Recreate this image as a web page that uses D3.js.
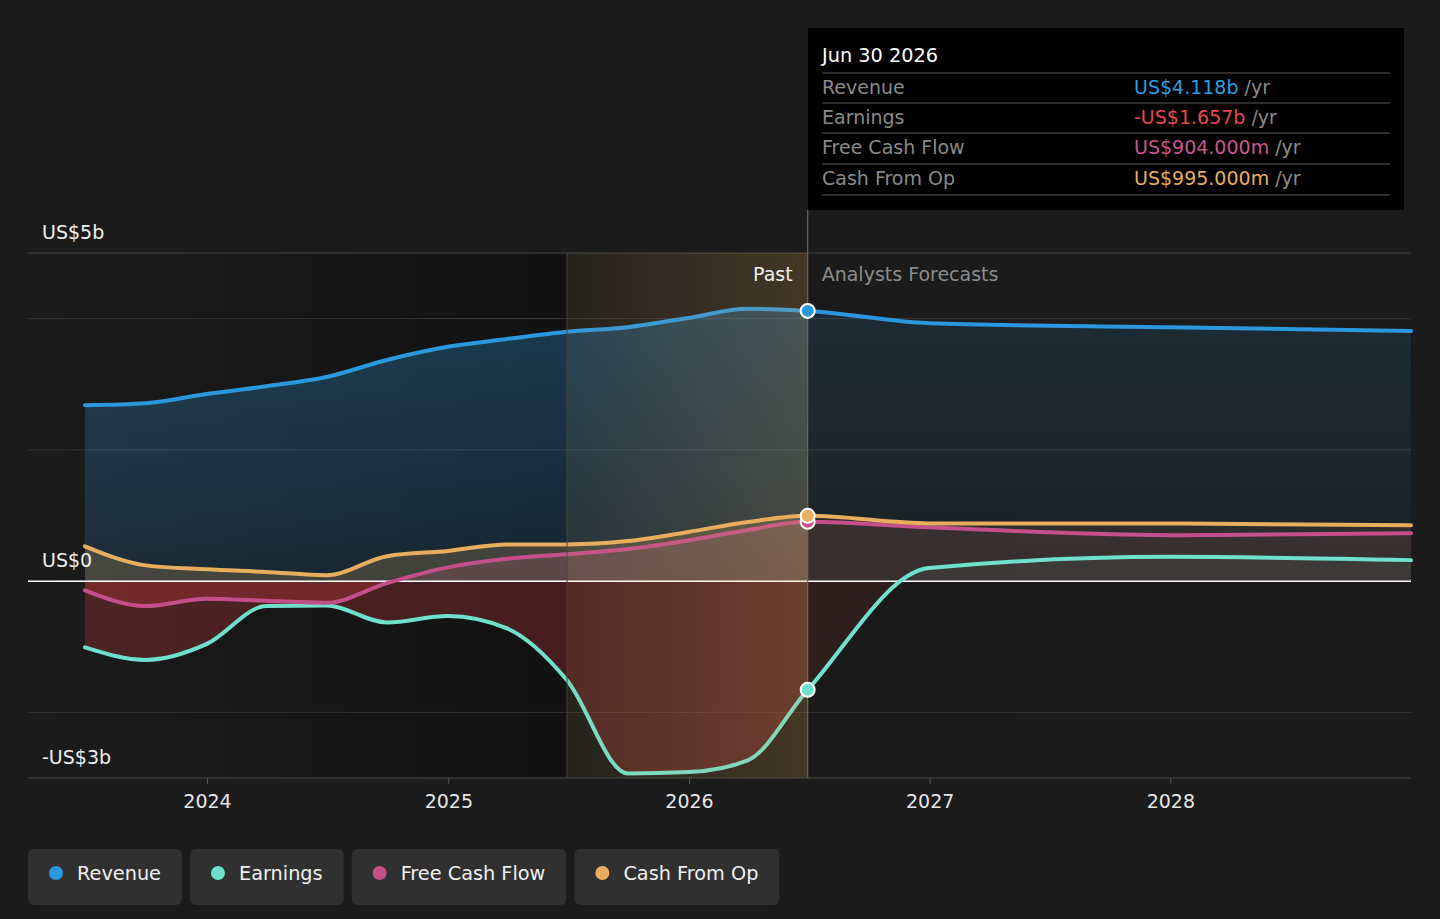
<!DOCTYPE html>
<html>
<head>
<meta charset="utf-8">
<title>Revenue, earnings and cash flow</title>
<script src="https://cdn.jsdelivr.net/npm/d3@7"></script>
<style>
  body { margin: 0; background: #1b1b1b; font-family: "DejaVu Sans", sans-serif; }
</style>
</head>
<body>
<script>
// values in US$ billions
var dates = ["2023-06-30","2023-09-30","2023-12-31","2024-03-31","2024-06-30","2024-09-30","2024-12-31",
             "2025-03-31","2025-06-30","2025-09-30","2025-12-31","2026-03-31","2026-06-30",
             "2026-12-31","2027-12-31","2028-12-31"]
var revenue      = [2.68, 2.71, 2.85, 2.97, 3.11, 3.37, 3.57, 3.69, 3.80, 3.87, 4.01, 4.15, 4.118, 3.93, 3.87, 3.81]
var earnings     = [-1.01,-1.20,-0.96,-0.38,-0.37,-0.63,-0.53,-0.72,-1.51,-2.93,-2.91,-2.73,-1.657, 0.20, 0.37, 0.32]
var freeCashFlow = [-0.14,-0.38,-0.27,-0.30,-0.33,-0.03, 0.21, 0.34, 0.41, 0.49, 0.62, 0.78, 0.904, 0.82, 0.70, 0.73]
var cashFromOp   = [0.53, 0.24, 0.18, 0.14, 0.09, 0.38, 0.46, 0.56, 0.56, 0.61, 0.75, 0.90, 0.995, 0.88, 0.88, 0.85]

var seriesNames  = ["Revenue", "Earnings", "Free Cash Flow", "Cash From Op"]
var seriesColors = ["#2b97de", "#6fe0cc", "#c44f8a", "#e8ae5e"]
var tooltipDate  = "2026-06-30"
var tooltipTitle = "Jun 30 2026"
var tooltipValues = ["US$4.118b", "-US$1.657b", "US$904.000m", "US$995.000m"]
var tooltipColors = ["#2d9de0", "#e64a4a", "#c9578f", "#e8ae5e"]
var yTicks = [-2, 0, 2, 4]
var yLabels = [{v: 5, t: "US$5b"}, {v: 0, t: "US$0"}, {v: -3, t: "-US$3b"}]
var pastStart = "2025-06-30"

var width = 1440, height = 919
var parse = d3.timeParse("%Y-%m-%d")
var allSeries = [revenue, earnings, freeCashFlow, cashFromOp]

var svg = d3.select("body").append("svg").attr("width", width).attr("height", height)
var defs = svg.append("defs")

var left = 28, right = 1411
var x = d3.scaleTime().domain([parse(dates[0]), parse(dates[dates.length - 1])]).range([85, 1411])
var y = d3.scaleLinear().domain([-3, 5]).range([778, 253])
var xNow = x(parse(tooltipDate))
var xPast = x(parse(pastStart))

// darker past background
var pg = defs.append("linearGradient").attr("id", "pastBg").attr("x1", 0).attr("x2", 1).attr("y1", 0).attr("y2", 0)
pg.append("stop").attr("offset", 0).attr("stop-color", "#000").attr("stop-opacity", 0)
pg.append("stop").attr("offset", 1).attr("stop-color", "#000").attr("stop-opacity", 0.35)
svg.append("rect").attr("x", left).attr("y", y(5)).attr("width", xPast - left).attr("height", y(-3) - y(5))
  .attr("fill", "url(#pastBg)")

// gridlines
svg.append("g").selectAll("line").data(yTicks.concat([5])).enter().append("line")
  .attr("x1", left).attr("x2", right).attr("y1", function(d){ return y(d) }).attr("y2", function(d){ return y(d) })
  .attr("stroke", function(d){ return d == 5 ? "#474747" : "#363636" }).attr("stroke-width", 1)

// area fills, series colour above zero and red below
allSeries.forEach(function(vals, i) {
  var g = defs.append("linearGradient").attr("id", "fill" + i).attr("gradientUnits", "userSpaceOnUse")
    .attr("x1", 0).attr("x2", 0).attr("y1", y(5)).attr("y2", y(-3))
  var z = (y(0) - y(5)) / (y(-3) - y(5))
  g.append("stop").attr("offset", 0).attr("stop-color", seriesColors[i]).attr("stop-opacity", i == 0 ? 0.34 : 0.22)
  g.append("stop").attr("offset", z).attr("stop-color", seriesColors[i]).attr("stop-opacity", i == 0 ? 0.14 : 0.2)
  g.append("stop").attr("offset", z).attr("stop-color", "#d63c3c").attr("stop-opacity", 0.27)
  g.append("stop").attr("offset", 1).attr("stop-color", "#d63c3c").attr("stop-opacity", 0.27)
})

defs.append("clipPath").attr("id", "clipPast").append("rect")
  .attr("x", left).attr("y", 0).attr("width", xNow - left).attr("height", height)
defs.append("clipPath").attr("id", "clipFut").append("rect")
  .attr("x", xNow).attr("y", 0).attr("width", right - xNow).attr("height", height)

var area = function(vals) {
  return d3.area().curve(d3.curveMonotoneX)
    .x(function(d, j){ return x(parse(dates[j])) })
    .y0(y(0)).y1(function(d){ return y(d) })(vals)
}
var line = function(vals) {
  return d3.line().curve(d3.curveMonotoneX)
    .x(function(d, j){ return x(parse(dates[j])) })
    .y(function(d){ return y(d) })(vals)
}

var areasPast = svg.append("g").attr("clip-path", "url(#clipPast)")
var areasFut = svg.append("g").attr("clip-path", "url(#clipFut)").attr("opacity", 0.42)
;[areasPast, areasFut].forEach(function(grp) {
  grp.selectAll("path").data(allSeries).enter().append("path")
    .attr("d", function(d){ return area(d) })
    .attr("fill", function(d, i){ return "url(#fill" + i + ")" })
})

// zero line
svg.append("line").attr("x1", left).attr("x2", right).attr("y1", y(0)).attr("y2", y(0))
  .attr("stroke", "#ffffff").attr("stroke-width", 1.5)

// series lines, earnings drawn first
var order = [1, 2, 3, 0]
svg.append("g").selectAll("path").data(order).enter().append("path")
  .attr("d", function(i){ return line(allSeries[i]) })
  .attr("fill", "none").attr("stroke", function(i){ return seriesColors[i] })
  .attr("stroke-width", 4).attr("stroke-linecap", "round")

// highlighted band up to the hovered date
var bg = defs.append("linearGradient").attr("id", "band").attr("x1", 0).attr("x2", 1).attr("y1", 0).attr("y2", 0)
bg.append("stop").attr("offset", 0).attr("stop-color", "#e6aa50").attr("stop-opacity", 0.05)
bg.append("stop").attr("offset", 1).attr("stop-color", "#e6aa50").attr("stop-opacity", 0.2)
svg.append("rect").attr("x", xPast).attr("y", y(5)).attr("width", xNow - xPast).attr("height", y(-3) - y(5))
  .attr("fill", "url(#band)")
svg.append("line").attr("x1", xPast).attr("x2", xPast).attr("y1", y(5)).attr("y2", y(-3))
  .attr("stroke", "#4a4434").attr("stroke-width", 1)
svg.append("line").attr("x1", xNow).attr("x2", xNow).attr("y1", 210).attr("y2", y(-3))
  .attr("stroke", "#7a6640").attr("stroke-width", 1.2)

// bottom axis
var xAxis = d3.axisBottom(x).ticks(d3.timeYear.every(1)).tickFormat(d3.timeFormat("%Y")).tickSize(6).tickPadding(11)
var ax = svg.append("g").attr("transform", "translate(0," + y(-3) + ")").call(xAxis)
ax.select(".domain").remove()
ax.selectAll("line").attr("stroke", "#555")
ax.selectAll("text").attr("fill", "#e6e6e6").attr("font-size", 19).attr("font-family", "DejaVu Sans")
svg.append("line").attr("x1", left).attr("x2", right).attr("y1", y(-3)).attr("y2", y(-3))
  .attr("stroke", "#4a4a4a").attr("stroke-width", 1)

// y labels
svg.append("g").selectAll("text").data(yLabels).enter().append("text")
  .attr("x", 42).attr("y", function(d){ return y(d.v) - 14 })
  .attr("fill", "#f0f0f0").attr("font-size", 19).text(function(d){ return d.t })

// past / forecast labels
svg.append("text").attr("x", xNow - 15).attr("y", 281).attr("text-anchor", "end")
  .attr("fill", "#f0f0f0").attr("font-size", 19).text("Past")
svg.append("text").attr("x", xNow + 14).attr("y", 281)
  .attr("fill", "#8c8c8c").attr("font-size", 19).text("Analysts Forecasts")

// markers on hovered date
var idx = dates.indexOf(tooltipDate)
svg.append("g").selectAll("circle").data([1, 2, 3, 0]).enter().append("circle")
  .attr("cx", xNow).attr("cy", function(i){ return y(allSeries[i][idx]) }).attr("r", 7)
  .attr("fill", function(i){ return seriesColors[i] }).attr("stroke", "#fff").attr("stroke-width", 2)

// tooltip
var tip = svg.append("g")
tip.append("rect").attr("x", 808).attr("y", 28).attr("width", 596).attr("height", 182).attr("fill", "#000")
tip.append("text").attr("x", 822).attr("y", 62).attr("fill", "#fff").attr("font-size", 19.3).text(tooltipTitle)
var rowY = [73, 103, 133, 164, 195]
tip.selectAll("line").data(rowY).enter().append("line")
  .attr("x1", 822).attr("x2", 1390).attr("y1", function(d){ return d }).attr("y2", function(d){ return d })
  .attr("stroke", "#3d3d3d").attr("stroke-width", 1.5)
seriesNames.forEach(function(n, i) {
  var ty = rowY[i] + 20.5
  tip.append("text").attr("x", 822).attr("y", ty).attr("fill", "#8a8a8a").attr("font-size", 19).text(n)
  var t = tip.append("text").attr("x", 1134).attr("y", ty).attr("font-size", 19)
  t.append("tspan").attr("fill", tooltipColors[i]).text(tooltipValues[i])
  t.append("tspan").attr("fill", "#8a8a8a").text(" /yr")
})

// legend
var lx = 28
seriesNames.forEach(function(n, i) {
  var g = svg.append("g")
  var r = g.append("rect").attr("x", lx).attr("y", 849).attr("height", 56).attr("rx", 6).attr("fill", "#303030")
  g.append("circle").attr("cx", lx + 28).attr("cy", 873).attr("r", 7).attr("fill", seriesColors[i])
  var t = g.append("text").attr("x", lx + 49).attr("y", 880).attr("fill", "#f0f0f0").attr("font-size", 19.3).text(n)
  var w = 49 + t.node().getComputedTextLength() + 21
  r.attr("width", w)
  lx += w + 8
})
</script>
</body>
</html>
